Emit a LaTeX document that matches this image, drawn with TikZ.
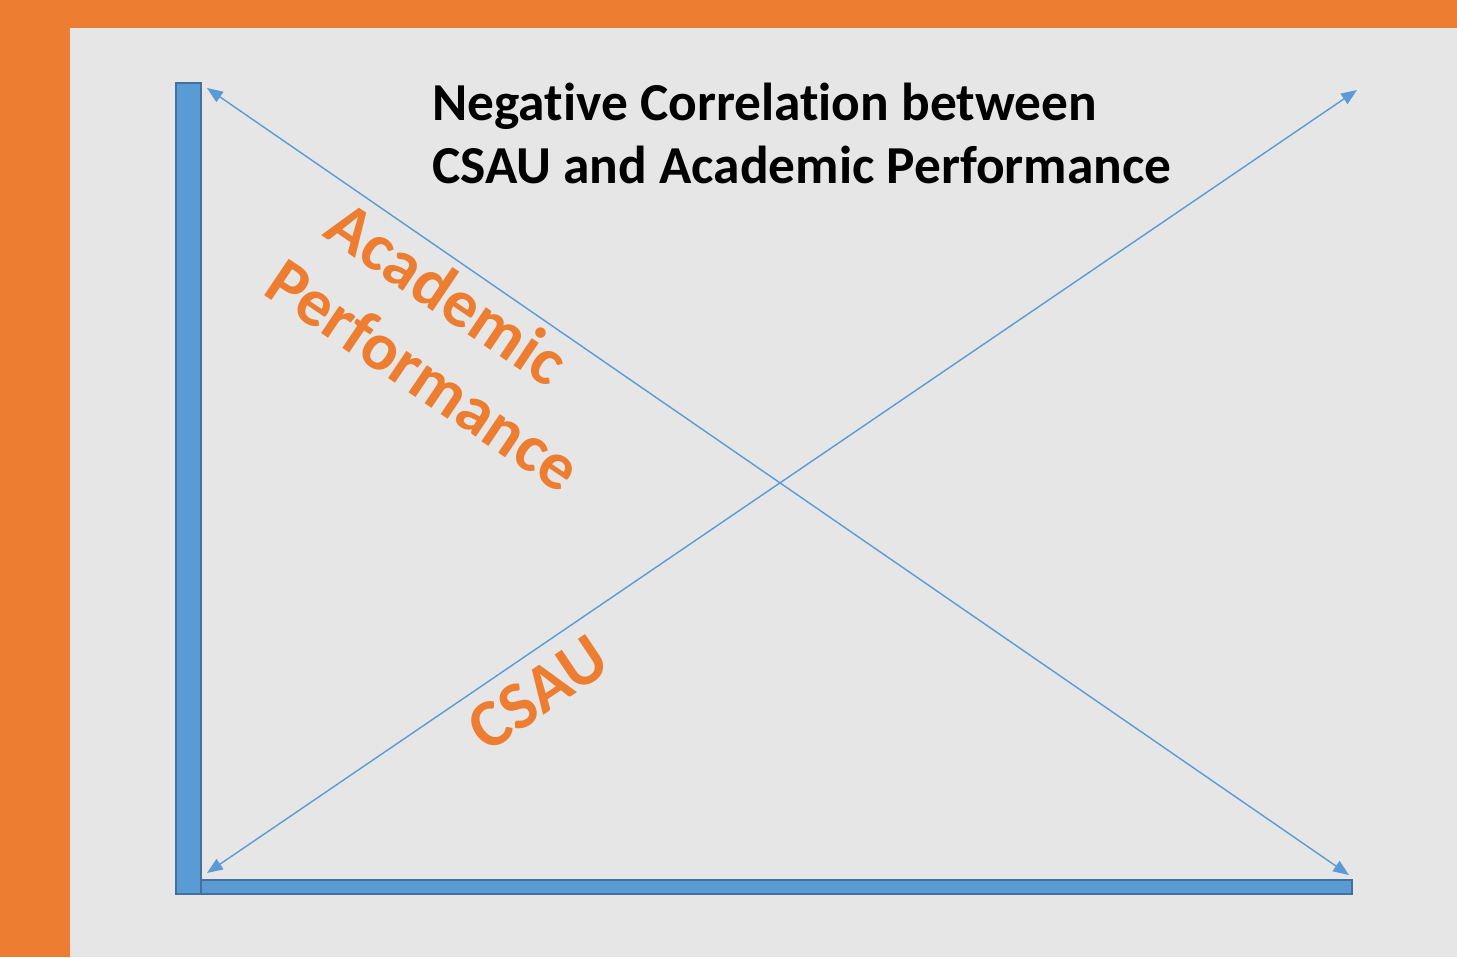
\documentclass[tikz,border=0pt]{standalone}
\usepackage{fontspec}
\setmainfont{Carlito}[Ligatures=NoCommon]
\usetikzlibrary{arrows.meta}
\definecolor{frameorange}{HTML}{ED7D31}
\definecolor{panelgray}{HTML}{E6E6E6}
\definecolor{axisblue}{HTML}{5B9BD5}
\definecolor{axisedge}{HTML}{41719C}

\begin{document}
\begin{tikzpicture}[x=0.02cm, y=-0.02cm,
    bar/.style={fill=axisblue, draw=axisedge, line width=1.2pt},
    trend/.style={axisblue, line width=0.8pt,
      {Triangle[length=9pt,width=7pt]}-{Triangle[length=9pt,width=7pt]}},
    axislabel/.style={text=frameorange, inner sep=0pt, align=left,
      font=\fontsize{38.5}{46}\selectfont\bfseries}]
    \fill[frameorange] (0,0) rectangle (1457,957);
    \fill[panelgray] (70,28) rectangle (1457,957);
    \useasboundingbox (0,0) rectangle (1457,957);
    % axes
    \draw[bar] (176,83) rectangle (201,894);
    \draw[bar] (201,880) rectangle (1352,894);
    % ends of the two trend lines
    \coordinate (ytop) at (207,88);
    \coordinate (xend) at (1349,875);
    \coordinate (origin) at (207,873);
    \coordinate (corner) at (1357,90);
    \draw[trend] (ytop) -- (xend);
    \draw[trend] (origin) -- (corner);
    \node[axislabel, rotate=-34] (perf) at (447,341) {\hspace*{10pt}Academic\\Performance};
    \node[axislabel, rotate=34] (csau) at (538,693) {CSAU};
    \node[anchor=base west, align=left, inner sep=0pt,
      font=\fontsize{30.4}{35.8}\selectfont\bfseries] (title) at (432,183)
      {Negative Correlation between\\CSAU and Academic Performance};
\end{tikzpicture}
\end{document}
